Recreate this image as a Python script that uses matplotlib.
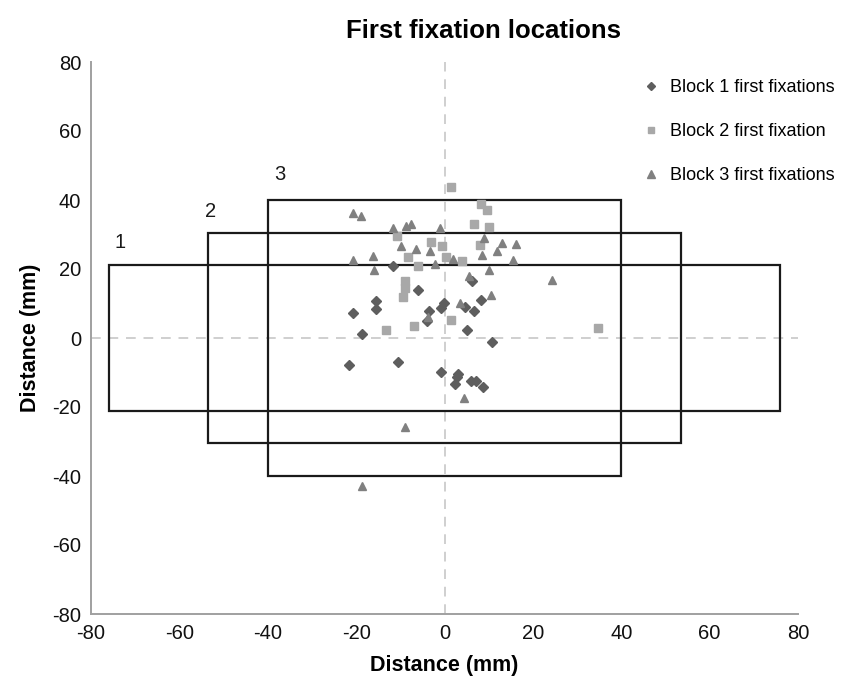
import matplotlib
matplotlib.use("Agg")
import matplotlib.pyplot as plt
from matplotlib.patches import Rectangle

plt.rcParams['font.family'] = ['Liberation Sans', 'DejaVu Sans']
plt.rcParams['axes.unicode_minus'] = False

# Block 1 first fixations (diamonds)
b1_x = [-11.6, 6.3, -5.9, -15.5, -15.5, -20.6, 8.2, -0.1, -0.9, 4.6, 6.7, -3.4, -4.0,
        5.2, -18.7, 10.8, -21.6, -10.5, -0.7, 3.0, 2.8, 6.1, 7.1, 2.4, 8.8]
b1_y = [21.0, 16.4, 13.8, 10.8, 8.4, 7.2, 11.1, 10.1, 8.7, 9.0, 7.9, 7.7, 4.8,
        2.2, 1.2, -1.3, -7.7, -7.0, -9.8, -10.3, -11.3, -12.4, -12.6, -13.3, -14.1]

# Block 2 first fixation (squares)
b2_x = [1.4, 8.2, 9.6, 6.7, 10.1, -10.8, -3.1, -0.6, 8.0, -8.3, 0.3, 3.9, -6.0,
        -8.9, -8.9, -9.5, 1.4, -6.8, -13.2, 34.7]
b2_y = [43.7, 38.8, 37.0, 33.0, 32.2, 29.7, 27.8, 26.8, 27.1, 23.4, 23.4, 22.2, 20.8,
        16.4, 14.6, 11.9, 5.3, 3.6, 2.2, 2.9]

# Block 3 first fixations (triangles)
b3_x = [-20.6, -19.0, -8.6, -7.6, -11.7, -1.1, 9.0, 12.9, 16.2, -9.8, -6.4, -3.3, 11.9,
        8.5, -16.1, -20.6, 2.0, 15.4, -2.1, -15.9, 10.0, 5.5, 24.3, 10.5, 3.5, -3.7,
        4.5, -8.9, -18.6]
b3_y = [36.2, 35.5, 32.6, 33.0, 31.9, 31.8, 29.0, 27.5, 27.3, 26.8, 25.8, 25.2, 25.2,
        24.1, 23.7, 22.7, 22.9, 22.6, 21.4, 19.8, 19.8, 18.1, 16.7, 12.6, 10.1, 6.0,
        -17.4, -25.9, -42.8]

# Boxes (half widths / half heights) and labels
box_names = ["1", "2", "3"]
box_hw = [76.0, 53.6, 40.0]
box_hh = [21.2, 30.3, 40.0]
box_label_x = [-73.4, -52.9, -37.2]
box_label_y = [27.6, 36.7, 47.5]

ticks = [-80, -60, -40, -20, 0, 20, 40, 60, 80]

fig = plt.figure(figsize=(8.58, 6.82), dpi=100)
ax = fig.add_axes([91/858, 68/682, (798-91)/858, (614-62)/682])

ax.axhline(0, color='#cfcfcf', lw=1.4, ls=(0, (5, 4)), zorder=1)
ax.axvline(0, color='#cfcfcf', lw=1.4, ls=(0, (5, 4)), zorder=1)

for hw, hh, name, lx, ly in zip(box_hw, box_hh, box_names, box_label_x, box_label_y):
    ax.add_patch(Rectangle((-hw, -hh), 2*hw, 2*hh, fill=False, ec='#1a1a1a', lw=1.6, zorder=2))
    ax.text(lx, ly, name, fontsize=14.5, ha='center', va='center', color='#1a1a1a')

ax.plot(b1_x, b1_y, ls='none', marker='D', ms=4.8, color='#5e5e5e', mec='#5e5e5e',
        label='Block 1 first fixations', zorder=3)
ax.plot(b2_x, b2_y, ls='none', marker='s', ms=5.4, color='#a8a8a8', mec='#a8a8a8',
        label='Block 2 first fixation', zorder=3)
ax.plot(b3_x, b3_y, ls='none', marker='^', ms=6.2, color='#808080', mec='#808080',
        label='Block 3 first fixations', zorder=3)

ax.set_xlim(-80, 80)
ax.set_ylim(-80, 80)
ax.set_xticks(ticks)
ax.set_yticks(ticks)
ax.tick_params(length=0, labelsize=14.5, pad=7, colors='#111111')
for s in ['top', 'right']:
    ax.spines[s].set_visible(False)
for s in ['left', 'bottom']:
    ax.spines[s].set_color('#a0a0a0')
    ax.spines[s].set_linewidth(1.4)

ax.set_xlabel('Distance (mm)', fontsize=15.5, fontweight='bold', labelpad=9)
ax.set_ylabel('Distance (mm)', fontsize=15.5, fontweight='bold', labelpad=8)

fig.text(483/858, 1 - 31/682, 'First fixation locations', fontsize=18.5,
         fontweight='bold', ha='center', va='center')

leg = ax.legend(loc='upper left', bbox_to_anchor=(637/858, 1 - 70/682),
                bbox_transform=fig.transFigure, frameon=False, fontsize=13,
                markerscale=0.85, handlelength=0.6, handletextpad=0.7,
                labelspacing=1.5, borderpad=0)

fig.savefig('out.png', dpi=100)
